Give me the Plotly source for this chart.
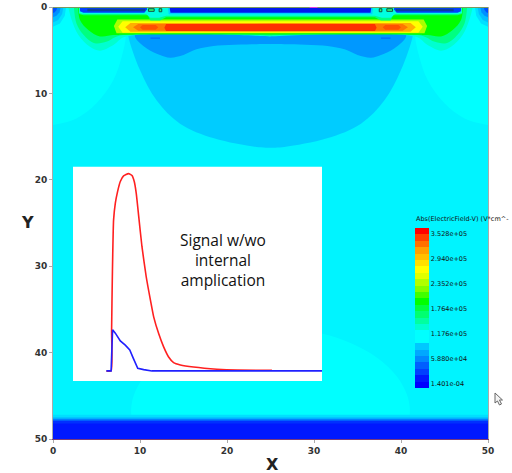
import plotly.graph_objects as go

TITLE_TEXT = "Abs(ElectricField-V) (V*cm^-"
X_TICKS = [0, 10, 20, 30, 40, 50]
Y_TICKS = [0, 10, 20, 30, 40, 50]

# --- field regions: half outlines (x, y), left of the x=25 centre line
BOTTOM_DOME = [(9.0, 47.3), (9.0, 46.3), (9.3, 44.9), (10.45, 42.8), (12.75, 40.6), (15.8, 38.9), (19.1, 37.8), (25, 37.2)]
CORNER_DOME = [(0, 13.66), (2.7, 12.9), (5, 11.15), (6.94, 8.45), (7.9, 5.75), (8.4, 3.2), (8.4, 0), (0, 0)]
CENTRAL_DOME = [(8.67, 3.0), (8.67, 3.43), (10, 7.3), (11.9, 10.8), (14.6, 13.5), (18.5, 15.2), (23.4, 16.2), (25, 16.3)]
SHALLOW = [(9.44, 3.0), (9.44, 3.5), (10.78, 4.8), (12.3, 5.55), (13.46, 5.86), (15, 5.55), (16.5, 4.9), (18.45, 4.5), (23.4, 4.3), (25, 4.3)]
GREEN_OUTER = [(1.75, 0), (2.15, 1.5), (2.9, 3.2), (4.25, 4.6), (5.4, 5.05), (6.94, 4.4), (8.3, 3.45), (25, 3.4)]
GREEN_MID = [(2.4, 0), (2.7, 1.9), (3.5, 3.2), (4.8, 4.2), (6.2, 4.0), (7.7, 3.3), (25, 3.3)]
GREEN_CORE = [(2.9, 0), (3.1, 1.5), (4.06, 2.66), (5.4, 3.4), (6.94, 3.25), (8, 3.2), (25, 3.18)]
LIME = [(25, 1.45), (7.4, 1.45), (7.0, 2.2), (7.3, 3.05), (25, 3.05)]
YELLOW = [(25, 1.65), (8.0, 1.65), (7.5, 2.3), (8, 2.97), (25, 2.97)]
ORANGE = [(25, 1.85), (8.9, 1.85), (8.3, 2.35), (8.9, 2.87), (25, 2.87)]
DEEP_ORANGE = [(25, 1.92), (9.8, 1.98), (9.2, 2.35), (9.8, 2.75), (25, 2.82)]
RED_LUMP = [(10.3, 2.08), (10.0, 2.35), (10.3, 2.62), (11.8, 2.62), (12.1, 2.35), (11.8, 2.08)]
RED_MAIN = [(25, 1.97), (13, 1.97), (12.8, 2.4), (13, 2.78), (25, 2.78)]
RING_GREEN = [(3, 0), (3, 0.8), (3.5, 0.95), (10.9, 0.95), (11.2, 1.55), (12.3, 1.55), (13, 1.2), (25, 1.2)]
RING_AQUA = [(3, 0), (3, 0.7), (3.4, 0.8), (10.7, 0.8), (11.2, 1.25), (12.2, 1.25), (13, 1.0), (25, 1.0)]
RING_SKY = [(13.2, 0), (13.3, 0.85), (25, 0.85)]
PAD_BLUE = [(3.1, 0), (3.1, 0.5), (3.5, 0.66), (10.5, 0.66), (10.8, 0.3), (10.8, 0)]
PAD_NAVY = [(3.95, 0.2), (3.95, 0.5), (10.6, 0.5), (10.6, 0.2)]
CENTRE_BLUE = [(13.4, 0), (13.5, 0.66), (25, 0.66)]
BOX_A = [(10.97, 0.2), (10.97, 0.5), (11.63, 0.5), (11.63, 0.2), (10.97, 0.2)]
BOX_B = [(12.2, 0.2), (12.2, 0.55), (12.5, 0.55), (12.5, 0.2), (12.2, 0.2)]
DASH = [(11.2, 3.6), (12.3, 3.6)]
CORNER_RINGS = [
    ([(1.5, 0), (1.35, 1.0), (0.8, 1.9), (0, 2.3), (0, 0)], "#00E0FF"),
    ([(1.2, 0), (1.05, 0.8), (0.6, 1.5), (0, 1.8), (0, 0)], "#00C0FF"),
    ([(0.9, 0), (0.75, 0.6), (0.4, 1.0), (0, 1.2), (0, 0)], "#0090FF"),
    ([(0.5, 0), (0.4, 0.35), (0.2, 0.6), (0, 0.7), (0, 0)], "#0050FF"),
]
# bottom strip: (y top, colour)
BOTTOM_BANDS = [(47.2, "#00DFFF"), (47.5, "#00B0FF"), (47.7, "#0070FF"), (47.9, "#0030FF"), (48.2, "#0018FF")]

# --- inset signal curves, in inset units 0..100
RED_T = [13.4, 15.3, 15.5, 15.8, 16.3, 17.0, 17.9, 19.0, 20.3, 22.3, 23.7, 24.6, 25.4, 26.4, 27.7, 29.4, 31.1, 32.4, 34.4, 36.4, 38.4, 40.4, 43.1, 48.4, 57.8, 65.9, 79.9]
RED_S = [4.7, 4.7, 23.7, 48.6, 75.1, 82.9, 88.3, 93.0, 95.6, 96.7, 95.8, 93.0, 87.5, 76.6, 62.6, 48.6, 37.7, 29.9, 22.1, 15.9, 11.2, 8.6, 7.5, 6.5, 5.5, 5.1, 5.0]
BLUE_T = [13.4, 15.3, 15.5, 15.9, 17.0, 19.0, 21.0, 22.8, 24.1, 26.0, 28.4, 31.7, 100]
BLUE_S = [4.7, 4.7, 11.2, 23.9, 22.3, 18.7, 16.7, 14.5, 10.9, 5.9, 5.3, 4.7, 4.7]
INSET_LINES = ["Signal w/wo", "internal", "amplication"]

# --- colour bar
BAR_MIN = -9408
BAR_MAX = 366912
BAR_TICKS = [1.401e-4, 5.88e4, 1.176e5, 1.764e5, 2.352e5, 2.94e5, 3.528e5]
BAR_LABELS = ["1.401e-04", "5.880e+04", "1.176e+05", "1.764e+05", "2.352e+05", "2.940e+05", "3.528e+05"]
BAR_COLORS = ["#0000FF", "#0018FF", "#0040FF", "#0060FF", "#0088FF", "#00A8FF", "#00C8FF", "#00FFFF", "#00FFFF",
              "#00FFD0", "#00FFA0", "#00FF70", "#00FF40", "#00FF00", "#40FF00", "#80FF00", "#B0FF00", "#E0FF00",
              "#FFFF00", "#FFE000", "#FFC000", "#FFA000", "#FF7000", "#FF4000", "#FF0000"]

fig = go.Figure()


def poly(points, color, line=None, smooth=False):
    fig.add_trace(go.Scatter(
        x=[p[0] for p in points], y=[p[1] for p in points], mode="lines", fill="toself",
        fillcolor=color,
        line=dict(width=1 if line else 0, color=line or color, shape="spline" if smooth else "linear"),
        hoverinfo="skip", showlegend=False, xaxis="x", yaxis="y"))


def across(half, color, smooth=False):
    """Half outline joined to its mirror image about x=25."""
    poly(list(half) + [(50 - x, y) for x, y in reversed(half)], color, smooth=smooth)


def both(points, color, line=None, smooth=False):
    """The same shape at the left and at the mirrored right position."""
    poly(points, color, line, smooth)
    poly([(50 - x, y) for x, y in points], color, line, smooth)


across(BOTTOM_DOME, "#00FFFF", smooth=True)
for top, col in BOTTOM_BANDS:
    poly([(0, top), (50, top), (50, 50), (0, 50)], col)
both(CORNER_DOME, "#00FFFF", smooth=True)
across(CENTRAL_DOME, "#00CCFF", smooth=True)
across(SHALLOW, "#0098FF", smooth=True)
across(GREEN_OUTER, "#00FFD0", smooth=True)
across(GREEN_MID, "#00FF80", smooth=True)
across(GREEN_CORE, "#00FF00", smooth=True)
across(LIME, "#AAFF00")
across(YELLOW, "#FFFF00")
across(ORANGE, "#FFB000")
across(DEEP_ORANGE, "#FF7800")
both(RED_LUMP, "#FF5000")
across(RED_MAIN, "#FF3000")
across(RING_GREEN, "#00FF80")
across(RING_AQUA, "#00FFE0")
across(RING_SKY, "#00D0FF")
both(PAD_BLUE, "#0040FF")
both(PAD_NAVY, "#0A3CA0")
across(CENTRE_BLUE, "#0018F0")
both(BOX_A, "#30FF70", "#105040")
both(BOX_B, "#30FF70", "#105040")
for ring, col in CORNER_RINGS:
    both(ring, col)
both(DASH, "#0060FF", "#0060FF")

# top edge of the device
fig.add_trace(go.Scatter(x=[0, 50], y=[0, 0], mode="lines", line=dict(color="#7A9A60", width=2),
                         hoverinfo="skip", showlegend=False, xaxis="x", yaxis="y"))
fig.add_trace(go.Scatter(x=[29.5, 30.4], y=[0, 0], mode="lines", line=dict(color="#E040E0", width=2),
                         hoverinfo="skip", showlegend=False, xaxis="x", yaxis="y"))

# colour bar carried by an otherwise invisible trace
n = len(BAR_COLORS)
scale = []
for i, c in enumerate(BAR_COLORS):
    scale += [[i / n, c], [(i + 1) / n, c]]
fig.add_trace(go.Scatter(
    x=[None], y=[None], mode="markers", showlegend=False, hoverinfo="skip", xaxis="x", yaxis="y",
    marker=dict(color=[BAR_MIN], cmin=BAR_MIN, cmax=BAR_MAX, colorscale=scale, showscale=True,
                colorbar=dict(x=(415 - 53) / 435, xanchor="left", xpad=0, ypad=0,
                              y=(439 - 388) / 432, yanchor="bottom",
                              lenmode="pixels", len=160, thicknessmode="pixels", thickness=14,
                              outlinewidth=0, borderwidth=0, ticks="", ticklabelposition="outside",
                              tickmode="array", tickvals=BAR_TICKS, ticktext=BAR_LABELS,
                              tickfont=dict(family="DejaVu Sans", size=6.5, color="#111111")))))

# inset
fig.add_trace(go.Scatter(x=[0, 100, 100, 0], y=[0, 0, 100, 100], mode="lines", fill="toself", fillcolor="white",
                         line=dict(width=0), hoverinfo="skip", showlegend=False, xaxis="x2", yaxis="y2"))
fig.add_trace(go.Scatter(x=RED_T, y=RED_S, mode="lines", line=dict(color="#FF2020", width=1.6, shape="spline", smoothing=0.5),
                         hoverinfo="skip", showlegend=False, xaxis="x2", yaxis="y2"))
fig.add_trace(go.Scatter(x=BLUE_T, y=BLUE_S, mode="lines", line=dict(color="#2020FF", width=1.6),
                         hoverinfo="skip", showlegend=False, xaxis="x2", yaxis="y2"))


def px_x(v):
    return (v - 53) / 435


def px_y(v):
    return (439 - v) / 432


# screenshot mouse pointer at the right edge
CURSOR_PX = [(495, 393), (495, 403), (497.5, 401), (499.5, 405), (501.5, 404), (499.5, 400), (502.5, 400)]
cursor_path = "M " + " L ".join(f"{px_x(a):.4f},{px_y(b):.4f}" for a, b in CURSOR_PX) + " Z"

fig.update_layout(
    width=512, height=473, autosize=False,
    margin=dict(l=53, r=24, t=7, b=34, autoexpand=False),
    paper_bgcolor="white", plot_bgcolor="#00F4FF",
    showlegend=False,
    xaxis=dict(range=[0, 50], tickvals=X_TICKS, ticks="outside", ticklen=3, tickcolor="#AAAAAA",
               showgrid=False, zeroline=False, showline=True, linecolor="#7A3A7A", linewidth=1,
               tickfont=dict(family="DejaVu Sans", size=9, weight="bold", color="#333333")),
    yaxis=dict(range=[50, 0], tickvals=Y_TICKS, ticks="outside", ticklen=3, tickcolor="#AAAAAA",
               showgrid=False, zeroline=False, showline=True, linecolor="#AAAAAA", linewidth=1, mirror=True,
               tickfont=dict(family="DejaVu Sans", size=9, weight="bold", color="#333333")),
    xaxis2=dict(domain=[px_x(73), px_x(322)], range=[0, 100], visible=False, anchor="y2"),
    yaxis2=dict(domain=[px_y(381), px_y(166.5)], range=[0, 100], visible=False, anchor="x2"),
    shapes=[dict(type="path", xref="paper", yref="paper", path=cursor_path, fillcolor="#F4F4F4",
                 line=dict(color="#666666", width=1))],
    annotations=[
        dict(x=(222.7 - 73) / (322 - 73) * 100, y=(381 - 260) / (381 - 166.5) * 100, xref="x2", yref="y2",
             text="<br>".join(INSET_LINES), showarrow=False, align="center", xanchor="center", yanchor="middle",
             font=dict(family="Open Sans", size=15.5, color="#111111")),
        dict(x=px_x(414), y=px_y(219), xref="paper", yref="paper", text=TITLE_TEXT, showarrow=False,
             xanchor="left", yanchor="middle", font=dict(family="DejaVu Sans", size=6.5, color="#111111")),
        dict(x=px_x(272), y=px_y(464), xref="paper", yref="paper", text="<b>X</b>", showarrow=False,
             xanchor="center", yanchor="middle", font=dict(family="DejaVu Sans", size=16, color="#222222")),
        dict(x=px_x(27), y=px_y(222), xref="paper", yref="paper", text="<b>Y</b>", showarrow=False,
             xanchor="center", yanchor="middle", font=dict(family="DejaVu Sans", size=16, color="#222222")),
    ],
)

fig.write_html("out.html", config={"displayModeBar": False}, post_script="document.body.style.margin='0';")
